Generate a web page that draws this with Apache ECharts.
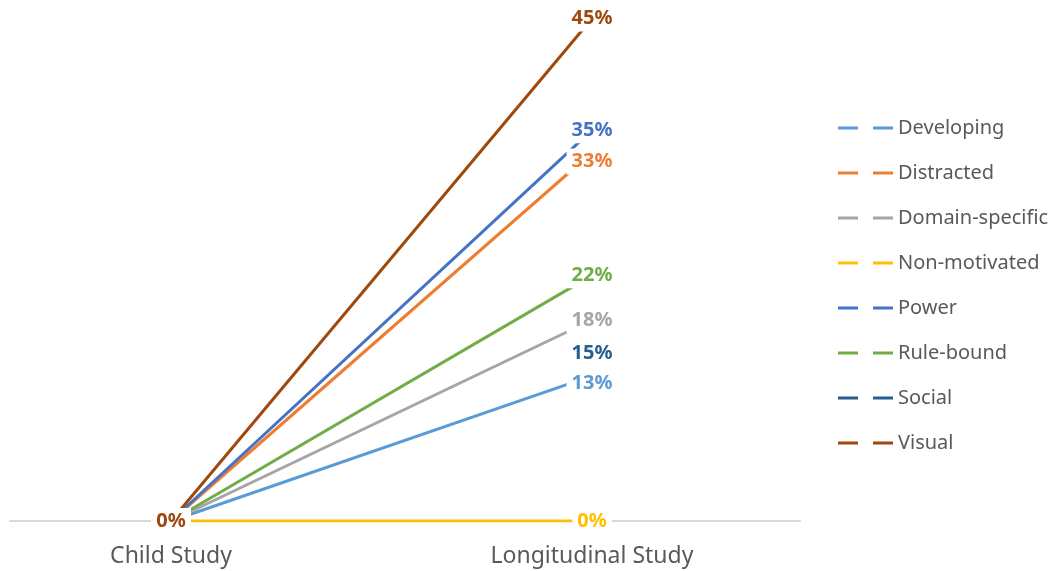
<!DOCTYPE html>
<html>
<head>
<meta charset="utf-8">
<script src="https://cdn.jsdelivr.net/npm/echarts@6/dist/echarts.min.js"></script>
<style>
  html, body { margin: 0; padding: 0; background: #ffffff; }
  #chart { width: 1059px; height: 571px; }
</style>
</head>
<body>
<div id="chart"></div>
<script>
// Categories along the x axis
const categories = ['Child Study', 'Longitudinal Study'];

// Share of each profile (percent) in the two studies
const developing     = [0, 13];
const distracted     = [0, 33];
const domainSpecific = [0, 18];
const nonMotivated   = [0, 0];
const power          = [0, 35];
const ruleBound      = [0, 22];
const social         = [null, 15];
const visual         = [0, 45];

const seriesNames  = ['Developing', 'Distracted', 'Domain-specific', 'Non-motivated', 'Power', 'Rule-bound', 'Social', 'Visual'];
const seriesValues = [developing, distracted, domainSpecific, nonMotivated, power, ruleBound, social, visual];
const seriesColors = ['#5B9BD5', '#ED7D31', '#A5A5A5', '#FFC000', '#4472C4', '#70AD47', '#255E91', '#9E480E'];

// Small nudges for labels that would otherwise collide
const labelOffsets = {
  'Distracted': [0, 9],
  'Developing': [0, 7]
};

const chart = echarts.init(document.getElementById('chart'), null, { renderer: 'canvas' });

const series = seriesNames.map((name, i) => ({
  name: name,
  type: 'line',
  xAxisIndex: 0,
  yAxisIndex: 0,
  data: seriesValues[i].map((v, j) => {
    const item = { value: v };
    if (j === 1 && labelOffsets[name]) item.label = { offset: labelOffsets[name] };
    return item;
  }),
  color: seriesColors[i],
  symbol: 'circle',
  symbolSize: 0.1,
  showSymbol: true,
  lineStyle: { width: 3, color: seriesColors[i] },
  itemStyle: { color: seriesColors[i] },
  label: {
    show: true,
    position: 'inside',
    formatter: '{c}%',
    color: seriesColors[i],
    fontFamily: 'Noto Sans',
    fontWeight: 'bold',
    fontSize: 20,
    lineHeight: 22,
    backgroundColor: '#ffffff',
    padding: [2, 5]
  },
  emphasis: { disabled: true }
}));

// Baseline drawn across the full plotting width
series.push({
  type: 'line',
  xAxisIndex: 1,
  yAxisIndex: 1,
  data: [],
  silent: true
});

chart.setOption({
  animation: false,
  backgroundColor: '#ffffff',
  grid: [
    { left: 171, right: 467, top: 18.5, bottom: 50 },
    { left: 10, right: 259, top: 18.5, bottom: 50 }
  ],
  xAxis: [
    {
      type: 'category',
      gridIndex: 0,
      data: categories,
      boundaryGap: false,
      axisLine: { show: false },
      axisTick: { show: false },
      axisLabel: {
        color: '#595959',
        fontFamily: 'Noto Sans',
        fontSize: 23,
        margin: 24
      },
      z: 1
    },
    {
      type: 'category',
      gridIndex: 1,
      data: ['', ''],
      axisLine: { show: true, lineStyle: { color: '#D9D9D9', width: 2 } },
      axisTick: { show: false },
      axisLabel: { show: false },
      z: 0
    }
  ],
  yAxis: [
    { type: 'value', gridIndex: 0, min: 0, max: 45, show: false },
    { type: 'value', gridIndex: 1, min: 0, max: 45, show: false }
  ],
  legend: {
    data: seriesNames,
    orient: 'vertical',
    left: 838,
    top: 117,
    padding: 0,
    icon: 'path://M0,0H20V3H0Z M35,0H55V3H35Z',
    itemWidth: 55,
    itemHeight: 3,
    itemGap: 23,
    selectedMode: false,
    textStyle: {
      color: '#595959',
      fontFamily: 'Noto Sans',
      fontSize: 20,
      lineHeight: 22
    }
  },
  series: series
});
</script>
</body>
</html>
